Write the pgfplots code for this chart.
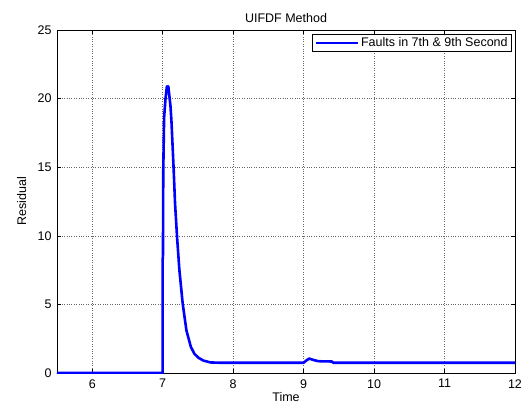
\documentclass[border=0pt]{standalone}
\usepackage{pgfplots}
\pgfplotsset{compat=1.18}
\usepackage{fontspec}
\setmainfont{Liberation Sans}
\begin{document}
\fontsize{12.5}{14}\selectfont
\begin{tikzpicture}
\useasboundingbox (-57pt,-34pt) rectangle (472pt,373pt);
\begin{axis}[
  at={(0,0)}, anchor=south west,
  scale only axis, width=458pt, height=343pt,
  xmin=5.5, xmax=12, ymin=0, ymax=25,
  xtick={6,7,8,9,10,11,12},
  ytick={0,5,10,15,20,25},
  tick align=inside,
  major tick length=4pt,
  tick style={black, line width=0.5pt},
  axis line style={black, line width=0.7pt},
  grid=major,
  grid style={black!60, dotted, line width=0.5pt},
  /pgf/number format/assume math mode=true,
  ticklabel style={font=\fontsize{12.5}{14}\selectfont},
  xticklabel style={yshift=-2pt},
  yticklabel style={xshift=-1pt},
  title={UIFDF Method},
  title style={font=\fontsize{12.5}{14}\selectfont, yshift=-3pt},
  xlabel={Time},
  ylabel={Residual},
  label style={font=\fontsize{12.5}{14}\selectfont},
  xlabel style={yshift=4pt},
  ylabel style={yshift=3pt},
  legend style={at={(1,1)}, anchor=north east, xshift=-3pt, yshift=-4pt,
    draw=black, line width=0.7pt, inner xsep=2pt, inner ysep=1pt,
    font=\fontsize{12.5}{14}\selectfont},
  legend cell align=left,
  legend image code/.code={\draw[#1] (0pt,0pt) -- (42pt,0pt);},
]
\addplot[blue, line width=2.6pt, line join=round] coordinates {
(5.5,0) (7.0,0) (7.0,8.3) (7.004,8.6) (7.008,14.7) (7.02,18.6) (7.04,20.0)
(7.06,20.9) (7.07,20.5) (7.08,20.9) (7.09,20.4) (7.11,19.5) (7.125,18.3)
(7.156,14.8) (7.175,12.4) (7.204,9.9) (7.237,7.5) (7.284,5.05) (7.337,3.1)
(7.40,1.9) (7.45,1.4) (7.51,1.1) (7.58,0.9) (7.68,0.77) (7.8,0.75)
(9.0,0.75) (9.04,0.92) (9.08,1.05) (9.14,0.95) (9.2,0.87) (9.25,0.85)
(9.4,0.84) (9.42,0.75) (12,0.75)
};
\addlegendentry{Faults in 7th \& 9th Second}
\end{axis}
\end{tikzpicture}
\end{document}
